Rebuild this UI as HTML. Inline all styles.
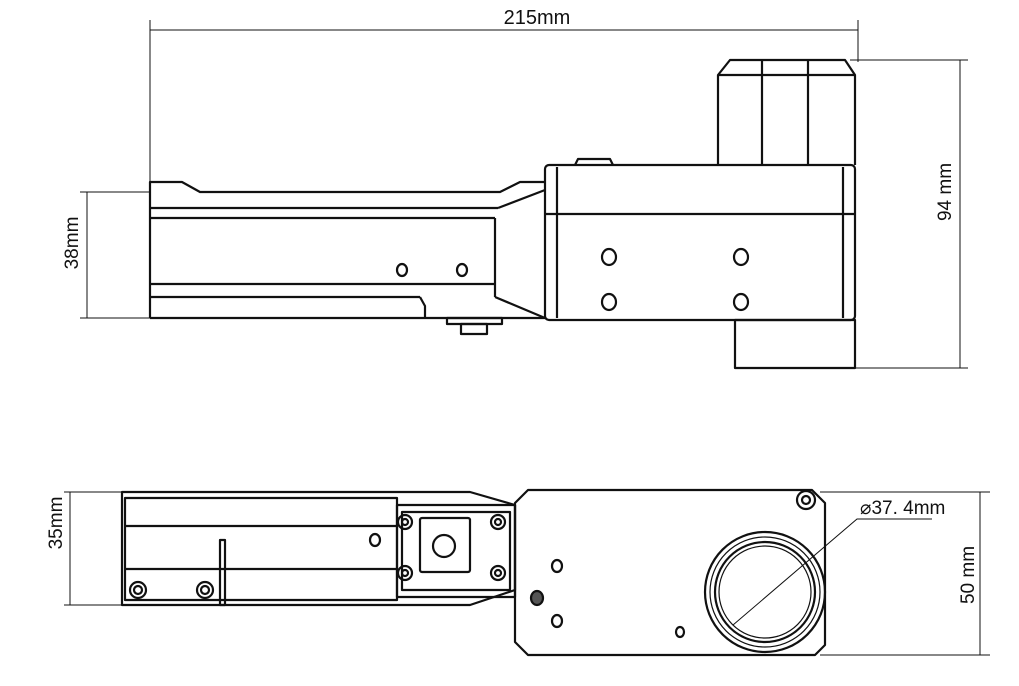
<!DOCTYPE html>
<html><head><meta charset="utf-8"><style>
html,body{margin:0;padding:0;background:#fff;}
svg{display:block;}
text{font-family:"Liberation Sans",sans-serif;fill:#111;}
</style></head><body>
<svg width="1019" height="686" viewBox="0 0 1019 686" xmlns="http://www.w3.org/2000/svg">
<g stroke="#111" fill="none" stroke-width="1">
<line x1="150" y1="30" x2="858" y2="30"/>
<line x1="150" y1="20" x2="150" y2="190"/>
<line x1="858" y1="20" x2="858" y2="62"/>
<line x1="960" y1="60" x2="960" y2="368"/>
<line x1="850" y1="60" x2="968" y2="60"/>
<line x1="850" y1="368" x2="968" y2="368"/>
<line x1="87" y1="192" x2="87" y2="318"/>
<line x1="80" y1="192" x2="150" y2="192"/>
<line x1="80" y1="318" x2="150" y2="318"/>
</g>
<text x="537" y="24" font-size="20" text-anchor="middle">215mm</text>
<text transform="translate(951,192) rotate(-90)" font-size="19" text-anchor="middle">94 mm</text>
<text transform="translate(78,243) rotate(-90)" font-size="19" text-anchor="middle">38mm</text>

<g stroke="#111" fill="none" stroke-width="2.2" stroke-linejoin="round">
<path d="M150,318 L150,182 L182,182 L200,192 L500,192 L520,182 L545,182"/>
<line x1="150" y1="208" x2="498" y2="208"/>
<line x1="150" y1="218" x2="495" y2="218"/>
<line x1="495" y1="218" x2="495" y2="297"/>
<path d="M498,208 L545,190"/>
<line x1="150" y1="284" x2="495" y2="284"/>
<line x1="150" y1="297" x2="420" y2="297"/>
<path d="M420,297 L425,306 L425,318"/>
<path d="M495,297 L545,318"/>
<line x1="150" y1="318" x2="545" y2="318"/>
<rect x="545" y="165" width="310" height="155" rx="4"/>
<line x1="557" y1="167" x2="557" y2="318"/>
<line x1="843" y1="167" x2="843" y2="318"/>
<line x1="545" y1="214" x2="855" y2="214"/>
<path d="M718,165 L718,75 L730,60 L845,60 L855,75 L855,165"/>
<line x1="718" y1="75" x2="855" y2="75"/>
<line x1="762" y1="60" x2="762" y2="165"/>
<line x1="808" y1="60" x2="808" y2="165"/>
<rect x="735" y="320" width="120" height="48"/>
<path d="M575,165 L578,159 L610,159 L613,165"/>
<rect x="447" y="318" width="55" height="6"/>
<rect x="461" y="324" width="26" height="10"/>
<ellipse cx="402" cy="270" rx="5" ry="6"/>
<ellipse cx="462" cy="270" rx="5" ry="6"/>
<ellipse cx="609" cy="257" rx="7" ry="8"/>
<ellipse cx="741" cy="257" rx="7" ry="8"/>
<ellipse cx="609" cy="302" rx="7" ry="8"/>
<ellipse cx="741" cy="302" rx="7" ry="8"/>
</g>

<g stroke="#111" fill="none" stroke-width="1">
<line x1="70" y1="492" x2="70" y2="605"/>
<line x1="64" y1="492" x2="124" y2="492"/>
<line x1="64" y1="605" x2="124" y2="605"/>
<line x1="980" y1="492" x2="980" y2="655"/>
<line x1="820" y1="492" x2="990" y2="492"/>
<line x1="820" y1="655" x2="990" y2="655"/>
<path d="M733,625 L857,519 L932,519"/>
</g>
<text transform="translate(62,523) rotate(-90)" font-size="19" text-anchor="middle">35mm</text>
<text transform="translate(974,575) rotate(-90)" font-size="19" text-anchor="middle">50 mm</text>
<text x="860" y="514" font-size="19">⌀37. 4mm</text>

<g stroke="#111" fill="none" stroke-width="2.2" stroke-linejoin="round">
<path d="M122,492 L470,492 L515,505 L515,590 L470,605 L122,605 Z"/>
<rect x="125" y="498" width="272" height="102"/>
<line x1="125" y1="526" x2="397" y2="526"/>
<line x1="125" y1="569" x2="397" y2="569"/>
<rect x="220" y="540" width="5" height="65"/>
<circle cx="138" cy="590" r="8"/><circle cx="138" cy="590" r="4"/>
<circle cx="205" cy="590" r="8"/><circle cx="205" cy="590" r="4"/>
<ellipse cx="375" cy="540" rx="5" ry="6"/>
<rect x="397" y="505" width="118" height="92"/>
<rect x="402" y="512" width="108" height="78"/>
<rect x="420" y="518" width="50" height="54" rx="2"/>
<circle cx="444" cy="546" r="11"/>
<circle cx="405" cy="522" r="7"/><circle cx="405" cy="522" r="3"/>
<circle cx="498" cy="522" r="7"/><circle cx="498" cy="522" r="3"/>
<circle cx="405" cy="573" r="7"/><circle cx="405" cy="573" r="3"/>
<circle cx="498" cy="573" r="7"/><circle cx="498" cy="573" r="3"/>
<path d="M528,490 L812,490 L825,503 L825,645 L815,655 L528,655 L515,642 L515,503 Z"/>
<circle cx="806" cy="500" r="9"/><circle cx="806" cy="500" r="4"/>
<circle cx="765" cy="592" r="60"/>
<circle cx="765" cy="592" r="55" stroke-width="1.2"/>
<circle cx="765" cy="592" r="50"/>
<circle cx="765" cy="592" r="46" stroke-width="1.2"/>
<ellipse cx="557" cy="566" rx="5" ry="6"/>
<ellipse cx="557" cy="621" rx="5" ry="6"/>
<ellipse cx="680" cy="632" rx="4" ry="5"/>
<ellipse cx="537" cy="598" rx="6" ry="7" fill="#555"/>
</g>
</svg>
</body></html>
